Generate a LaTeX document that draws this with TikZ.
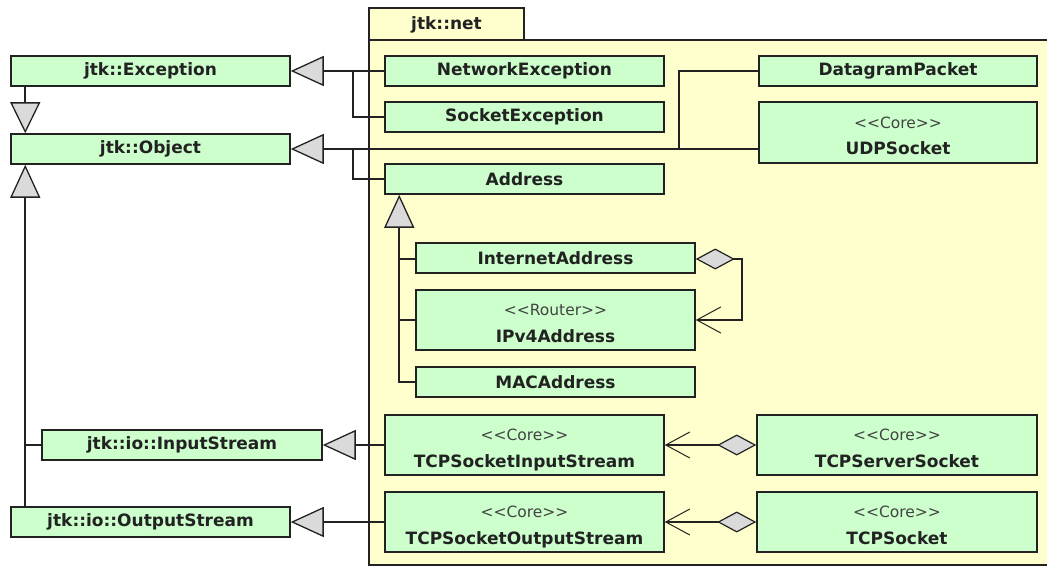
\documentclass[tikz,border=0pt]{standalone}
\usepackage{fontspec}
\setmainfont{DejaVu Sans}
\newfontfamily\clsfont{DejaVu Sans}
\newfontfamily\stereofont{DejaVu Sans}
\usetikzlibrary{arrows.meta,calc}

\definecolor{clsfill}{RGB}{204,255,204}
\definecolor{pkgfill}{RGB}{255,255,206}
\definecolor{tipfill}{RGB}{218,218,218}
\definecolor{ink}{RGB}{34,34,34}

\newcommand{\stereo}[1]{{\stereofont\mdseries\fontsize{15.5}{18}\selectfont\color{ink!85}#1}}

\tikzset{
  cls/.style={draw=ink, line width=1.5pt, fill=clsfill, rectangle,
    inner sep=0pt, align=center, text=ink,
    font=\clsfont\bfseries\fontsize{17}{27}\selectfont},
  twoline/.style={text height=45pt, text depth=0pt},
  link/.style={draw=ink, line width=1.6pt},
  gen/.style={link, -{Triangle[length=33pt,width=30pt,fill=tipfill,line width=1.3pt]}},
  genv/.style={link, -{Triangle[length=31pt,width=30pt,fill=tipfill,line width=1.3pt]}},
  aggr/.style={link, {Diamond[length=39pt,width=21pt,fill=tipfill,line width=1.2pt]}-{Straight Barb[length=24pt,width=26pt,line width=1pt]}},
  pkg/.style={draw=ink, line width=1.3pt, fill=pkgfill}
}

\begin{document}
\begin{tikzpicture}[x=1pt,y=-1pt]
\useasboundingbox (0,0) rectangle (1047,567);

% package jtk::net
\draw[pkg] (369,8) rectangle (524,40);
\draw[pkg] (369,40) rectangle (1055,565);
\node[font=\clsfont\bfseries\fontsize{17}{20}\selectfont, text=ink] (pkgname) at (446.5,24.5) {jtk::net};

% classes outside the package
\node[cls, minimum width=279pt, minimum height=30pt] (exc)  at (150.5,71)  {jtk::Exception};
\node[cls, minimum width=279pt, minimum height=30pt] (obj)  at (150.5,149) {jtk::Object};
\node[cls, minimum width=280pt, minimum height=30pt] (istr) at (182,445)   {jtk::io::InputStream};
\node[cls, minimum width=279pt, minimum height=30pt] (ostr) at (150.5,522) {jtk::io::OutputStream};

% classes inside the package
\node[cls, minimum width=279pt, minimum height=30pt] (netex)  at (524.5,71)  {NetworkException};
\node[cls, minimum width=279pt, minimum height=30pt] (sockex) at (524.5,117) {SocketException};
\node[cls, minimum width=279pt, minimum height=30pt] (addr)   at (524.5,179) {Address};
\node[cls, minimum width=279pt, minimum height=30pt] (ia)     at (555.5,258) {InternetAddress};
\node[cls, twoline, minimum width=279pt, minimum height=60pt] (ipv4) at (555.5,320) {\stereo{<<Router>>}\\IPv4Address};
\node[cls, minimum width=279pt, minimum height=30pt] (mac)    at (555.5,382) {MACAddress};
\node[cls, minimum width=278pt, minimum height=30pt] (dgram)  at (898,71)    {DatagramPacket};
\node[cls, twoline, minimum width=278pt, minimum height=61pt] (udp)  at (898,132.5) {\stereo{<<Core>>}\\UDPSocket};
\node[cls, twoline, minimum width=279pt, minimum height=60pt] (tsis) at (524.5,445) {\stereo{<<Core>>}\\TCPSocketInputStream};
\node[cls, twoline, minimum width=279pt, minimum height=60pt] (tsos) at (524.5,522) {\stereo{<<Core>>}\\TCPSocketOutputStream};
\node[cls, twoline, minimum width=280pt, minimum height=60pt] (srv)  at (897,445) {\stereo{<<Core>>}\\TCPServerSocket};
\node[cls, twoline, minimum width=280pt, minimum height=60pt] (tcps) at (897,522) {\stereo{<<Core>>}\\TCPSocket};

% branch points
\coordinate (excbus) at (353,71);
\coordinate (objbus) at (353,149);
\coordinate (udpbus) at (679,149);
\coordinate (addrtrunk) at ($(addr.south west)+(15,0)$);
\coordinate (leftx) at ($(obj.south west)+(15,0)$);

% exceptions
\draw[gen] (netex.west) -- (exc.east);
\draw[link] (sockex.west) -| (excbus);
\draw[genv] (exc.south -| leftx) -- (obj.north -| leftx);

% jtk::Object subclasses
\draw[gen] (udp.west |- obj.east) -- (obj.east);
\draw[link] (dgram.west) -| (udpbus);
\draw[link] (addr.west) -| (objbus);

% address hierarchy
\draw[gen] (mac.west) -| (addrtrunk);
\draw[link] (ia.west |- 0,259) -- (addrtrunk |- 0,259);
\draw[link] (ipv4.west) -- (ipv4.west -| addrtrunk);

% streams
\draw[gen] (ostr.north -| leftx) -- (obj.south -| leftx);
\draw[link] (istr.west) -- (istr.west -| leftx);
\draw[gen] (tsis.west) -- (istr.east);
\draw[gen] (tsos.west) -- (ostr.east);

% aggregations
\coordinate (iacorner) at (742,259);
\draw[aggr] (ia.east |- iacorner) -- (iacorner) |- (ipv4.east);
\draw[aggr] (srv.west) -- (tsis.east);
\draw[aggr] (tcps.west) -- (tsos.east);
\end{tikzpicture}
\end{document}
